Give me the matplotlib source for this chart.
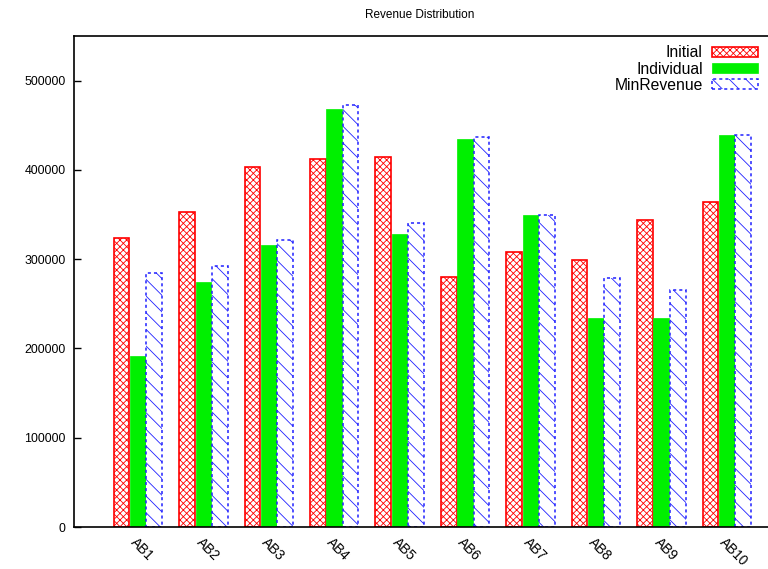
import matplotlib
matplotlib.use("Agg")
import matplotlib.pyplot as plt
import numpy as np

categories = ["AB1", "AB2", "AB3", "AB4", "AB5", "AB6", "AB7", "AB8", "AB9", "AB10"]
initial = [324000, 353000, 403000, 412000, 414000, 280000, 308000, 299000, 344000, 364000]
individual = [192000, 274000, 316000, 468000, 328000, 435000, 350000, 234000, 234000, 439000]
minrevenue = [285000, 292000, 321000, 473000, 340000, 437000, 350000, 279000, 265000, 439000]
yticks = [0, 100000, 200000, 300000, 400000, 500000]

plt.rcParams['font.family'] = ['Liberation Sans', 'DejaVu Sans']
plt.rcParams['hatch.linewidth'] = 0.6

fig = plt.figure(figsize=(7.68, 5.69), dpi=100)
W, H = 768, 569
left, right, top, bottom = 74, 800, 36, 527
ax = fig.add_axes([left / W, 1 - bottom / H, (right - left) / W, (bottom - top) / H])

x = np.arange(len(categories))
bw = 0.24
ax.bar(x - 0.25, initial, bw, facecolor='white', edgecolor='#ff0000', hatch='xxxxx',
       linewidth=1.2, label='Initial')
ax.bar(x, individual, bw, facecolor='#00f000', edgecolor='#00f000', linewidth=0.5,
       label='Individual')
ax.bar(x + 0.25, minrevenue, bw, facecolor='white', edgecolor='#2020ff', hatch='\\\\',
       linewidth=1.1, linestyle=(0, (2, 2)), label='MinRevenue')

ax.set_xlim(-0.978, 10.12)
ax.set_ylim(0, 550000)
ax.set_yticks(yticks)
ax.set_yticklabels([str(v) for v in yticks], fontsize=8.9)
ax.set_xticks(x)
ax.set_xticklabels(categories, rotation=-45, ha='left', va='top', fontsize=9.8,
                   rotation_mode='anchor')
ax.tick_params(axis='x', length=0, pad=6)
ax.tick_params(axis='y', direction='in', length=5, width=1, pad=6)
for s in ['left', 'bottom', 'top']:
    ax.spines[s].set_linewidth(1.2)
ax.spines['right'].set_visible(False)

fig.text(420 / W, 1 - 15 / H, 'Revenue Distribution', fontsize=8.5, ha='center', va='center')

leg = ax.legend(loc='upper right', bbox_to_anchor=((767 - left) / (right - left), 1.0),
                frameon=False, markerfirst=False, fontsize=11.3, handlelength=2.9,
                handleheight=0.6, labelspacing=0.08, handletextpad=0.6,
                borderaxespad=0.2)
for t in leg.get_texts():
    t.set_ha('right')

fig.savefig('out.png', dpi=100)
